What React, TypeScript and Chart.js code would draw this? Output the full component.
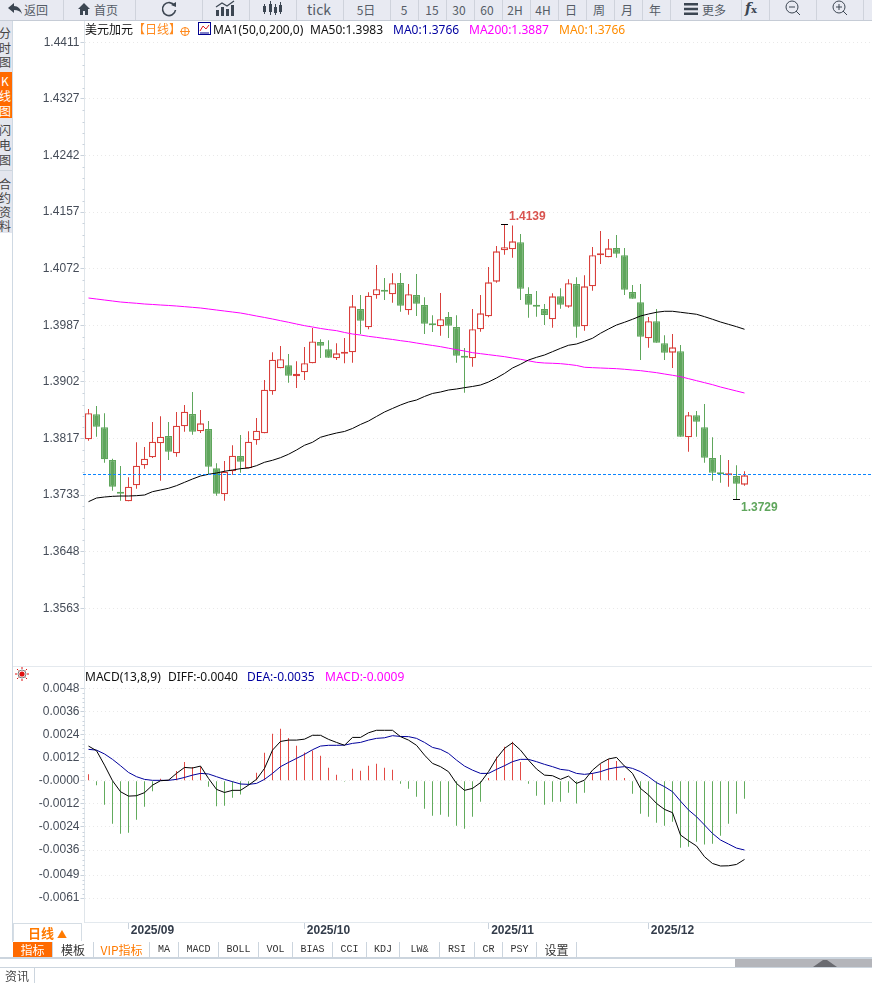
import React, { useEffect, useRef } from "react";
import { Chart, registerables } from "chart.js";

Chart.register(...registerables);

const dates = [
  "08-25","08-26","08-27","08-28","08-29",
  "09-01","09-02","09-03","09-04","09-05","09-08","09-09","09-10","09-11","09-12","09-15","09-16","09-17","09-18","09-19","09-22","09-23","09-24","09-25","09-26","09-29","09-30",
  "10-01","10-02","10-03","10-06","10-07","10-08","10-09","10-10","10-13","10-14","10-15","10-16","10-17","10-20","10-21","10-22","10-23","10-24","10-27","10-28","10-29","10-30","10-31",
  "11-03","11-04","11-05","11-06","11-07","11-10","11-11","11-12","11-13","11-14","11-17","11-18","11-19","11-20","11-21","11-24","11-25","11-26","11-27","11-28",
  "12-01","12-02","12-03","12-04","12-05","12-08","12-09","12-10","12-11","12-12","12-15","12-16","12-17",
];
const emptySlots = 16;
const monthStarts = ["09-01", "10-01", "11-03", "12-01"];
const monthLabels = ["2025/09", "2025/10", "2025/11", "2025/12"];

const opens = [
  1.38162,1.38537,1.38342,1.37851,1.37371,1.37232,1.37472,1.37772,1.37892,1.38102,
  1.38211,1.37952,1.38357,1.38541,1.38282,1.38316,1.37726,1.37337,1.37682,1.37911,
  1.37726,1.38147,1.38252,1.38882,1.39226,1.39271,1.39106,1.39167,1.39302,1.39621,
  1.39511,1.39376,1.39446,1.39467,1.40116,1.39842,1.40322,1.40386,1.40337,1.40506,
  1.40096,1.40326,1.40176,1.39886,1.39857,1.39996,1.39846,1.39411,1.39376,1.39812,
  1.40006,1.40526,1.40997,1.41012,1.41117,1.40341,1.40171,1.40116,1.39961,1.40306,
  1.40151,1.40491,1.39857,1.40456,1.40922,1.40892,1.41031,1.40922,1.40371,1.40216,
  1.39677,1.39932,1.39602,1.39461,1.39482,1.38192,1.38522,1.38342,1.37881,1.37652,
  1.37622,1.37611,1.37481,
];
const highs = [
  1.38616,1.38661,1.38552,1.37871,1.37761,1.37591,1.38117,1.38046,1.38421,1.38507,
  1.38421,1.38571,1.38676,1.38871,1.38601,1.38436,1.37801,1.37836,1.38071,1.38226,
  1.38282,1.38481,1.39051,1.39467,1.39561,1.39441,1.39332,1.39546,1.39831,1.39661,
  1.39646,1.39601,1.39681,1.40326,1.40326,1.40366,1.40776,1.40581,1.40652,1.40656,
  1.40491,1.40641,1.40291,1.40021,1.40356,1.40071,1.40021,1.39531,1.40116,1.40326,
  1.40746,1.41061,1.41384,1.41370,1.41241,1.40441,1.40386,1.40191,1.40351,1.40427,
  1.40561,1.40591,1.40621,1.41046,1.41286,1.41166,1.41226,1.41031,1.40476,1.40491,
  1.39996,1.40116,1.39722,1.39741,1.39576,1.38571,1.38586,1.38691,1.38192,1.37926,
  1.37851,1.37771,1.37681,
];
const lows = [
  1.38141,1.38201,1.37811,1.37391,1.37241,1.37232,1.37421,1.37721,1.37881,1.37541,
  1.37851,1.37901,1.38276,1.38231,1.38256,1.37631,1.37316,1.37241,1.37631,1.37661,
  1.37726,1.38081,1.38252,1.38831,1.39226,1.39011,1.38931,1.39051,1.39302,1.39381,
  1.39386,1.39351,1.39302,1.39311,1.39741,1.39812,1.40271,1.40251,1.40211,1.40076,
  1.40031,1.40011,1.39741,1.39771,1.39716,1.39681,1.39311,1.38861,1.39251,1.39776,
  1.39991,1.40511,1.40931,1.40886,1.40251,1.39986,1.40001,1.39876,1.39836,1.40121,
  1.40136,1.39686,1.39791,1.40391,1.40791,1.40892,1.40886,1.40326,1.40271,1.39351,
  1.39536,1.39611,1.39351,1.39231,1.38200,1.37976,1.38201,1.37811,1.37541,1.37511,
  1.37451,1.37262,1.37466,
];
const closes = [
  1.38552,1.38351,1.37862,1.37451,1.37346,1.37451,1.37766,1.37871,1.38126,1.38201,
  1.37976,1.38366,1.38576,1.38276,1.38401,1.37751,1.37346,1.37676,1.37916,1.37826,
  1.38126,1.38291,1.38906,1.39356,1.39362,1.39116,1.39146,1.39302,1.39628,1.39566,
  1.39386,1.39451,1.39467,1.40156,1.39941,1.40316,1.40412,1.40376,1.40502,1.40166,
  1.40337,1.40196,1.39896,1.39871,1.39962,1.39866,1.39416,1.39386,1.39812,1.40051,
  1.40516,1.40981,1.41042,1.41131,1.40420,1.40181,1.40151,1.40026,1.40306,1.40181,
  1.40502,1.39851,1.40456,1.40922,1.40952,1.41026,1.40946,1.40406,1.40271,1.39701,
  1.39932,1.39611,1.39461,1.39541,1.38200,1.38522,1.38426,1.37886,1.37660,1.37637,
  1.37637,1.37496,1.37621,
];
const ma50 = [
  1.37226,1.37281,1.37296,1.37306,1.37311,1.37311,1.37316,1.37326,1.37376,1.37401,
  1.37427,1.37466,1.37516,1.37566,1.37611,1.37637,1.37656,1.37682,1.37701,1.37721,
  1.37731,1.37766,1.37817,1.37847,1.37886,1.37937,1.38001,1.38072,1.38117,1.38192,
  1.38226,1.38256,1.38279,1.38324,1.38384,1.38436,1.38504,1.38571,1.38624,1.38676,
  1.38721,1.38751,1.38804,1.38849,1.38871,1.38901,1.38916,1.38936,1.38954,1.38976,
  1.39021,1.39081,1.39149,1.39231,1.39287,1.39351,1.39391,1.39426,1.39476,1.39526,
  1.39572,1.39591,1.39632,1.39677,1.39752,1.39816,1.39876,1.39917,1.39962,1.40011,
  1.40041,1.40067,1.40082,1.40082,1.40067,1.40052,1.40037,1.40001,1.39962,1.39921,
  1.39886,1.39851,1.39812,
];
const ma200 = [
  1.40281,1.40266,1.40251,1.40236,1.40221,1.40211,1.40202,1.40191,1.40184,1.40176,
  1.40169,1.40161,1.40151,1.40141,1.40131,1.40116,1.40101,1.40086,1.40071,1.40056,
  1.40034,1.40011,1.39989,1.39966,1.39941,1.39917,1.39891,1.39866,1.39846,1.39824,
  1.39806,1.39791,1.39764,1.39741,1.39726,1.39706,1.39691,1.39674,1.39659,1.39641,
  1.39626,1.39606,1.39587,1.39569,1.39551,1.39528,1.39506,1.39486,1.39461,1.39446,
  1.39431,1.39416,1.39401,1.39381,1.39362,1.39339,1.39316,1.39306,1.39302,1.39296,
  1.39284,1.39269,1.39242,1.39236,1.39231,1.39226,1.39221,1.39212,1.39201,1.39191,
  1.39176,1.39161,1.39141,1.39122,1.39101,1.39071,1.39041,1.39011,1.38981,1.38946,
  1.38916,1.38886,1.38856,
];
const ma0Level = 1.37636;
const highText = "1.4139";
const lowText = "1.3729";
const highIndex = 52;
const lowIndex = 81;

const diff = [
  .0018,.00156,.00081,0,-.00057,-.0008,-.00078,-.00062,-.00023,0,
  .00003,.00038,.00069,.00066,.00076,.00012,-.00045,-.00061,-.0005,-.0005,
  -.00023,.00007,.00064,.00159,.00204,.00211,.00211,.00216,.00236,.00236,
  .00215,.00199,.00184,.00225,.00225,.00249,.00262,.00262,.00262,.00229,
  .00211,.00184,.00133,.0009,.00073,.00047,-.00014,-.0005,-.0004,-.0001,
  .00047,.00116,.00168,.00197,.00159,.00107,.00061,.00029,.00026,.00007,
  .00024,-.00014,.00003,.00055,.0009,.00113,.00121,.00076,.00038,-.0004,
  -.00074,-.00118,-.00149,-.00166,-.00282,-.00312,-.00339,-.00395,-.0043,-.00443,
  -.00442,-.00435,-.00409,
];
const dea = [
  .00163,.00159,.00139,.00111,.00078,.00043,.00021,.00007,.00002,.00002,
  .00002,.00007,.00017,.00029,.00038,.00035,.00021,.00007,-.00005,-.00017,
  -.00019,-.00014,.00007,.00038,.00073,.00095,.00116,.00137,.00161,.0018,
  .00184,.00184,.00185,.00194,.00199,.00211,.0022,.00223,.00234,.0023,
  .00229,.0022,.00199,.00173,.00163,.00142,.00107,.00076,.00055,.00038,
  .00038,.00059,.00078,.00099,.00111,.00111,.00099,.00085,.00073,.00059,
  .00054,.00038,.00033,.00038,.00047,.00061,.00069,.00073,.00064,.00047,
  .00021,-.0001,-.00031,-.00057,-.00106,-.00152,-.00187,-.0023,-.00274,-.00308,
  -.00329,-.0035,-.0036,
];
const macdHist = [
  .00033,-.00024,-.00125,-.00223,-.00275,-.0027,-.00203,-.00135,-.00055,.0001,
  .00005,.0005,.00097,.00071,.00074,-.00031,-.00133,-.0013,-.00088,-.00071,
  -.00024,.00042,.00145,.00244,.0027,.00222,.00182,.00147,.00157,.0013,
  .00068,.00031,-.00005,.00062,.00052,.00078,.00088,.00068,.00057,-.00016,
  -.00042,-.00083,-.00145,-.00182,-.00177,-.00187,-.00234,-.00249,-.00187,-.00109,
  .00014,.00125,.00177,.00203,.00097,-.00016,-.00078,-.00125,-.00109,-.00109,
  -.00062,-.00119,-.00062,.0004,.00087,.00113,.00102,.00014,-.00068,-.00171,
  -.00187,-.00218,-.00234,-.00213,-.00348,-.00343,-.00317,-.00332,-.00327,-.00286,
  -.00223,-.00171,-.00094,
];

const mainTicks = [1.44116,1.43267,1.42419,1.4157,1.40721,1.39872,1.39023,1.38174,1.37325,1.36476,1.35626];
const mainTickLabels = ["1.4411","1.4327","1.4242","1.4157","1.4072","1.3987","1.3902","1.3817","1.3733","1.3648","1.3563"];
const macdTicks = [.0048,.0036,.0024,.0012,0,-.0012,-.0024,-.0036,-.0049,-.0061];
const macdTickLabels = ["0.0048","0.0036","0.0024","0.0012","-0.0000","-0.0012","-0.0024","-0.0036","-0.0049","-0.0061"];

const toolbarSeps = [63,135,202,249,296,343,390,418,446,474,502,530,558,586,614,642,670,741,769,816,863];
const toolbarTexts: [string, number, number][] = [
  ["返回", 36, 12], ["首页", 106, 12], ["tick", 319, 14], ["5日", 366, 12], ["5", 404, 12], ["15", 432, 12],
  ["30", 459, 12], ["60", 487, 12], ["2H", 515, 12], ["4H", 543, 12], ["日", 571, 12], ["周", 599, 12],
  ["月", 627, 12], ["年", 655, 12], ["更多", 714, 12],
];
const bottomTabs: [string, number, number, string][] = [
  ["指标",13,53,"#fff"],["模板",53,94,"#333"],["VIP指标",94,150,"#ff7a00"],["MA",150,179,"#333"],["MACD",179,219,"#333"],
  ["BOLL",219,259,"#333"],["VOL",259,293,"#333"],["BIAS",293,333,"#333"],["CCI",333,367,"#333"],["KDJ",367,400,"#333"],
  ["LW&",400,440,"#333"],["RSI",440,475,"#333"],["CR",475,503,"#333"],["PSY",503,537,"#333"],["设置",537,577,"#333"],
];
const sideTabs: [string, number][] = [["分",33],["时",48],["图",62],["闪",130],["电",145],["图",160],["合",184],["约",198],["资",212],["料",226]];
const sideActive: [string, number][] = [["K",81],["线",96],["图",111]];

const RED = "#d9403c";
const GREEN = "#5fa65c";
const LEFT_GUTTER = 70.5;
const PLOT_W = 792;
const CANVAS_W = 863;
const labels = [...dates, ...Array(emptySlots).fill("")];

function minorTickPlugin(count: number, axisId: string) {
  return {
    id: "minorTicks" + axisId,
    afterDatasetsDraw(chart: any) {
      const s = chart.scales[axisId];
      const ctx = chart.ctx;
      const vals = s.ticks.map((t: any) => t.value);
      ctx.save();
      ctx.strokeStyle = "#c9d2dc";
      ctx.lineWidth = 1;
      for (let i = 0; i < vals.length - 1; i++) {
        for (let k = 1; k < count; k++) {
          const v = vals[i] + ((vals[i + 1] - vals[i]) * k) / count;
          const y = Math.round(s.getPixelForValue(v)) + 0.5;
          ctx.beginPath();
          ctx.moveTo(s.right - 2, y);
          ctx.lineTo(s.right, y);
          ctx.stroke();
        }
      }
      ctx.restore();
    },
  };
}

const mainOverlay = {
  id: "mainOverlay",
  afterDatasetsDraw(chart: any) {
    const { ctx, chartArea, scales } = chart;
    const y = scales.y, x = scales.x;
    ctx.save();
    const row = Math.round(y.getPixelForValue(ma0Level));
    ctx.fillStyle = "#0a84ff";
    for (let px = Math.floor(chartArea.left) - 1; px < chartArea.right; px += 5) {
      ctx.fillRect(px, row, 3, 1);
    }
    const mark = (i: number, v: number) => {
      const px = x.getPixelForValue(i);
      const py = Math.round(y.getPixelForValue(v)) + 0.5;
      ctx.strokeStyle = "#000";
      ctx.lineWidth = 1;
      ctx.beginPath();
      ctx.moveTo(px - 3.5, py);
      ctx.lineTo(px + 3.5, py);
      ctx.stroke();
      return [px, py];
    };
    ctx.font = "bold 12px 'Liberation Sans', Arial, sans-serif";
    ctx.textBaseline = "middle";
    ctx.textAlign = "left";
    const [hx, hy] = mark(highIndex, highs[highIndex]);
    ctx.fillStyle = "#d9534f";
    ctx.fillText(highText, hx + 4.5, hy - 7.5);
    const [lx, ly2] = mark(lowIndex, lows[lowIndex]);
    ctx.fillStyle = "#5fa65c";
    ctx.fillText(lowText, lx + 4.5, ly2 + 8);
    ctx.restore();
  },
};

function zeroPadding(s: any) {
  s.paddingTop = 0;
  s.paddingBottom = 0;
  s.paddingLeft = 0;
  s.paddingRight = 0;
}

function yAxis(min: number, max: number, values: number[], text: string[]) {
  return {
    type: "linear",
    position: "left",
    min,
    max,
    afterBuildTicks: (s: any) => { s.ticks = values.map((value) => ({ value })); },
    afterFit: (s: any) => { s.width = LEFT_GUTTER; zeroPadding(s); },
    ticks: {
      autoSkip: false,
      padding: 1,
      color: "#454c58",
      font: { family: "'Liberation Sans', Arial, sans-serif", size: 12 },
      callback: (_: any, i: number) => text[i],
    },
    grid: { color: "#e9e9e9", tickColor: "#c9d2dc", tickLength: 4, drawTicks: true, lineWidth: 1 },
    border: { color: "#dfe5ea", dash: [1, 3], width: 1 },
  };
}

const layoutOptions = { autoPadding: false, padding: { left: 0, top: 0, bottom: 0, right: CANVAS_W - LEFT_GUTTER - PLOT_W } };

function MainChart() {
  const ref = useRef<HTMLCanvasElement>(null);
  useEffect(() => {
    const up = closes.map((c, i) => c >= opens[i]);
    const chart = new Chart(ref.current!, {
      type: "bar",
      data: {
        labels,
        datasets: [
          { type: "line", data: ma50, borderColor: "#000", borderWidth: 1, pointRadius: 0, tension: 0, order: 0 },
          { type: "line", data: ma200, borderColor: "#ff00ff", borderWidth: 1, pointRadius: 0, tension: 0, order: 0 },
          {
            data: opens.map((o, i) => [o, closes[i]]),
            backgroundColor: up.map((u) => (u ? "#fff" : GREEN)),
            borderColor: up.map((u) => (u ? RED : GREEN)),
            borderWidth: 1.3, borderSkipped: false, barThickness: 7, grouped: false, inflateAmount: 0, minBarLength: 2, order: 1,
          },
          {
            data: lows.map((l, i) => [l, highs[i]]),
            backgroundColor: up.map((u) => (u ? RED : GREEN)),
            borderWidth: 0, barThickness: 1, grouped: false, inflateAmount: 0, order: 2,
          },
        ],
      } as any,
      options: {
        animation: false, responsive: false, devicePixelRatio: 1,
        layout: layoutOptions,
        plugins: { legend: { display: false }, tooltip: { enabled: false } },
        scales: {
          x: { display: false, offset: true, afterFit: zeroPadding },
          y: yAxis(1.34761, 1.44481, mainTicks, mainTickLabels),
        },
      } as any,
      plugins: [mainOverlay, minorTickPlugin(5, "y")],
    });
    return () => chart.destroy();
  }, []);
  return <canvas ref={ref} width={CANVAS_W} height={648} style={{ position: "absolute", left: 14, top: 18 }} />;
}

function MacdChart() {
  const ref = useRef<HTMLCanvasElement>(null);
  useEffect(() => {
    const chart = new Chart(ref.current!, {
      type: "bar",
      data: {
        labels,
        datasets: [
          { type: "line", data: diff, borderColor: "#000", borderWidth: 1, pointRadius: 0, tension: 0, order: 0 },
          { type: "line", data: dea, borderColor: "#00009c", borderWidth: 1, pointRadius: 0, tension: 0, order: 0 },
          {
            data: macdHist,
            backgroundColor: macdHist.map((v) => (v >= 0 ? "#e24a45" : "#62ab5d")),
            borderWidth: 0, barThickness: 1, inflateAmount: 0, order: 1,
          },
        ],
      } as any,
      options: {
        animation: false, responsive: false, devicePixelRatio: 1,
        layout: layoutOptions,
        plugins: { legend: { display: false }, tooltip: { enabled: false } },
        scales: {
          x: {
            offset: true,
            afterBuildTicks: (s: any) => { s.ticks = monthStarts.map((d) => ({ value: dates.indexOf(d) })); },
            afterFit: (s: any) => { s.height = 20; zeroPadding(s); },
            ticks: {
              autoSkip: false, maxRotation: 0, minRotation: 0, padding: -6, labelOffset: 24, color: "#333c4a",
              font: { family: "'Liberation Sans', Arial, sans-serif", size: 12, weight: "bold" },
              callback: (_: any, i: number) => monthLabels[i],
            },
            grid: { offset: false, drawOnChartArea: false, tickLength: 7, tickColor: "#c9d2dc" },
            border: { color: "#e3e9ee" },
          },
          y: yAxis(-.00734, .00596, macdTicks, macdTickLabels),
        },
      } as any,
      plugins: [minorTickPlugin(5, "y")],
    });
    return () => chart.destroy();
  }, []);
  return <canvas ref={ref} width={CANVAS_W} height={276} style={{ position: "absolute", left: 14, top: 666 }} />;
}

const CJK = "'Noto Sans CJK SC', 'Noto Sans', sans-serif";
const abs = (left: number, top: number, extra: any = {}): any => ({ position: "absolute", left, top, whiteSpace: "nowrap", ...extra });

function Toolbar() {
  const ico = "#3c4652";
  return (
    <div style={abs(0, 0, { width: 872, height: 20, background: "#e8eaf2", borderBottom: "1px solid #c6ccd6", fontFamily: CJK, color: "#555c66" })}>
      {toolbarSeps.map((x) => <div key={x} style={abs(x, 0, { width: 1, height: 20, background: "#cfd3dc" })} />)}
      {toolbarTexts.map(([t, c, s]) => (
        <div key={t} style={abs(c - 30, 0, { width: 60, height: 20, lineHeight: "19px", textAlign: "center", fontSize: s })}>{t}</div>
      ))}
      <svg style={abs(6, 2)} width="18" height="14" viewBox="0 0 18 14"><path d="M8 1 L2 6 L8 11 V8 C12 8 14 9 16 12 C15 7 12 4 8 4 Z" fill={ico} /></svg>
      <svg style={abs(77, 2)} width="14" height="14" viewBox="0 0 14 14"><path d="M7 1 L1 7 H3 V13 H6 V9 H8 V13 H11 V7 H13 Z" fill={ico} /></svg>
      <svg style={abs(160, 1)} width="18" height="17" viewBox="0 0 18 17"><path d="M14.5 4.5 A6.5 6.5 0 1 0 15.5 9" fill="none" stroke={ico} strokeWidth="1.6" /><path d="M11 4 L16 6 L16 1 Z" fill={ico} /></svg>
      <svg style={abs(215, 0)} width="20" height="16" viewBox="0 0 20 16"><path d="M1 16 V10 H4 V16 Z M6 16 V7 H9 V16 Z M11 16 V9 H14 V16 Z M16 16 V5 H19 V16 Z" fill={ico} /><path d="M1 7 L7 3 L12 6 L19 1" fill="none" stroke={ico} strokeWidth="1.2" /></svg>
      <svg style={abs(262, 1)} width="20" height="15" viewBox="0 0 20 15"><path d="M1 5 H4 V11 H1 Z M7 3 H10 V11 H7 Z M12 6 H15 V12 H12 Z M17 4 H20 V11 H17 Z M2 3 h1 v10 h-1 Z M8 0 h1 v14 h-1 Z M13 3 h1 v11 h-1 Z M18 1 h1 v12 h-1 Z" fill={ico} /></svg>
      <svg style={abs(684, 3)} width="14" height="12" viewBox="0 0 14 12"><path d="M0 0 H14 V2.5 H0 Z M0 4.8 H14 V7.3 H0 Z M0 9.5 H14 V12 H0 Z" fill={ico} /></svg>
      <div style={abs(745, 0, { fontFamily: "'DejaVu Serif', serif", fontStyle: "italic", fontWeight: 700, fontSize: 14, lineHeight: "17px", color: ico })}>f<span style={{ fontSize: 10, fontStyle: "normal" }}>x</span></div>
      <svg style={abs(784, 0)} width="17" height="16" viewBox="0 0 17 16"><circle cx="8" cy="7" r="6" fill="none" stroke={ico} /><path d="M5 7 H11 M12 11 L16 15" stroke={ico} /></svg>
      <svg style={abs(831, 0)} width="17" height="16" viewBox="0 0 17 16"><circle cx="8" cy="7" r="6" fill="none" stroke={ico} /><path d="M5 7 H11 M8 4 V10 M12 11 L16 15" stroke={ico} /></svg>
    </div>
  );
}

function Sidebar() {
  return (
    <>
      <div style={abs(0, 21, { width: 12, height: 212, background: "#e4e6ee" })} />
      <div style={abs(0, 72, { width: 12, height: 46, background: "#ff6a00" })} />
      <div style={abs(0, 170, { width: 12, height: 1, background: "#ccd3dc" })} />
      <div style={abs(12, 21, { width: 1, height: 921, background: "#cfd9e3" })} />
      {sideTabs.map(([t, y], i) => <div key={i} style={abs(-1, y - 8, { width: 12, textAlign: "center", fontFamily: CJK, fontSize: 12, lineHeight: "15px", color: "#444" })}>{t}</div>)}
      {sideActive.map(([t, y], i) => <div key={i} style={abs(-1, y - 8, { width: 12, textAlign: "center", fontFamily: CJK, fontSize: 12, lineHeight: "15px", color: "#fff" })}>{t}</div>)}
    </>
  );
}

function Legends() {
  const f = { fontFamily: "'Noto Sans', " + CJK, fontSize: 12, lineHeight: "16px" };
  return (
    <>
      <div style={abs(85, 22, { ...f, color: "#111" })}>美元加元</div>
      <div style={abs(133, 22, { ...f, color: "#ff8a1e" })}>【日线】</div>
      <svg style={abs(180, 26)} width="10" height="11" viewBox="0 0 10 11"><circle cx="5" cy="5.5" r="4" fill="none" stroke="#ff8a1e" /><path d="M0 5.5 H10 M5 1 V10" stroke="#ff8a1e" /></svg>
      <svg style={abs(198, 22)} width="13" height="13" viewBox="0 0 13 13"><rect x="0.5" y="0.5" width="12" height="12" fill="#fff" stroke="#000090" /><path d="M2 9 L5 4 L8 7 L11 3" fill="none" stroke="#e02020" /><path d="M2 11 H11" stroke="#000090" /></svg>
      <div style={abs(213, 22, { ...f, color: "#111" })}>MA1(50,0,200,0)</div>
      <div style={abs(310, 22, { ...f, color: "#111" })}>MA50:1.3983</div>
      <div style={abs(393, 22, { ...f, color: "#0000a0" })}>MA0:1.3766</div>
      <div style={abs(469, 22, { ...f, color: "#ff00ff" })}>MA200:1.3887</div>
      <div style={abs(559, 22, { ...f, color: "#ff8c00" })}>MA0:1.3766</div>
      <div style={abs(13, 666, { width: 859, height: 1, background: "#e4e9ee" })} />
      <svg style={abs(15, 667)} width="14" height="14" viewBox="0 0 14 14"><circle cx="7" cy="7" r="2.6" fill="#e01010" /><circle cx="7" cy="7" r="4" fill="none" stroke="#444" strokeWidth="0.7" /><path d="M7 0 V2 M7 12 V14 M0 7 H2 M12 7 H14 M2 2 L3.4 3.4 M10.6 10.6 L12 12 M12 2 L10.6 3.4 M2 12 L3.4 10.6" stroke="#e01010" /></svg>
      <div style={abs(85, 669, { ...f, color: "#111" })}>MACD(13,8,9)</div>
      <div style={abs(168, 669, { ...f, color: "#111" })}>DIFF:-0.0040</div>
      <div style={abs(247, 669, { ...f, color: "#0000a0" })}>DEA:-0.0035</div>
      <div style={abs(325, 669, { ...f, color: "#ff00ff" })}>MACD:-0.0009</div>
    </>
  );
}

function Bottom() {
  return (
    <>
      <div style={abs(13, 923, { width: 69, height: 18, border: "1px solid #d5dde4", borderBottom: "none", boxSizing: "border-box", textAlign: "center", fontFamily: CJK, fontSize: 13, lineHeight: "18px", fontWeight: 700, color: "#ff7a00" })}>日线 <span style={{ fontSize: 10 }}>▲</span></div>
      <div style={abs(13, 942, { width: 564, height: 16, background: "#fff", borderBottom: "1px solid #ccd5de", boxSizing: "content-box" })} />
      {bottomTabs.map(([t, a, b, c], i) => (
        <div key={t} style={abs(a, 942, {
          width: b - a, height: 16, boxSizing: "border-box", textAlign: "center", lineHeight: "15px", color: c,
          background: i === 0 ? "#ff6a00" : "#fff", borderRight: "1px solid #ccd5de",
          fontFamily: /[A-Z]/.test(t) && i !== 2 ? "'Liberation Mono', monospace" : CJK,
          fontSize: /[A-Z]/.test(t) && i !== 2 ? 10 : 12,
        })}>{t}</div>
      ))}
      <div style={abs(0, 957, { width: 872, height: 2, background: "#ccd5de" })} />
      <div style={abs(735, 959, { width: 137, height: 8, background: "#b4b5ba" })} />
      <svg style={abs(813, 959)} width="24" height="8" viewBox="0 0 24 8"><path d="M0 8 L10 1 H14 L24 8 Z" fill="#6a6b70" /></svg>
      <div style={abs(0, 967, { width: 872, height: 1, background: "#ccd5de" })} />
      <div style={abs(0, 968, { width: 35, height: 15, borderRight: "1px solid #ccd5de", boxSizing: "border-box", background: "#fff", textAlign: "center", fontFamily: CJK, fontSize: 12, lineHeight: "16px", color: "#444" })}>资讯</div>
    </>
  );
}

export default function App() {
  useEffect(() => {
    document.documentElement.style.overflow = "hidden";
    document.body.style.margin = "0";
  }, []);
  return (
    <div style={{ position: "absolute", left: 0, top: 0, width: 872, height: 983, overflow: "hidden", background: "#fff" }}>
      <MainChart />
      <MacdChart />
      <Toolbar />
      <Sidebar />
      <Legends />
      <Bottom />
    </div>
  );
}
